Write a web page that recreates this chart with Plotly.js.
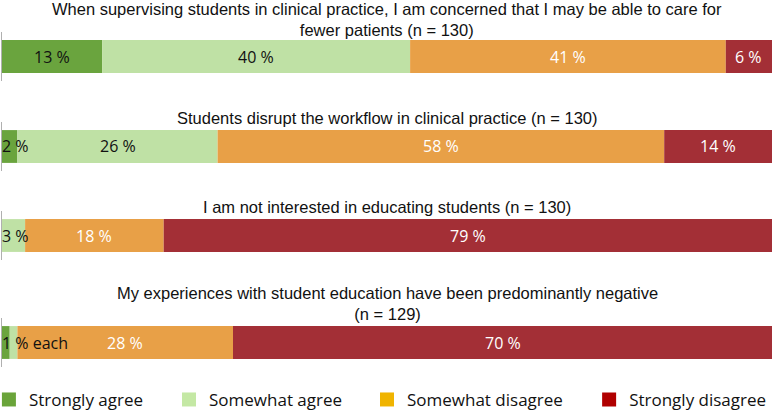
<!DOCTYPE html>
<html>
<head>
<meta charset="utf-8">
<script src="https://cdn.plot.ly/plotly-3.0.1.min.js"></script>
<style>html,body{margin:0;padding:0;background:#fff}#chart{width:772px;height:414px}</style>
</head>
<body>
<div id="chart"></div>
<script>
// ---- data ----
var categories = ["Strongly agree", "Somewhat agree", "Somewhat disagree", "Strongly disagree"];
var questions = [
  "When supervising students in clinical practice, I am concerned that I may be able to care for<br>fewer patients (n = 130)",
  "Students disrupt the workflow in clinical practice (n = 130)",
  "I am not interested in educating students (n = 130)",
  "My experiences with student education have been predominantly negative<br>(n = 129)"
];
var q1Values = [13, 40, 41, 6];
var q2Values = [2, 26, 58, 14];
var q3Values = [0, 3, 18, 79];
var q4Values = [1, 1, 28, 70];
// labels for small segments drawn from the left edge
var smallLabels = [null, "2 %", "3 %", "1 % each"];

// ---- styles ----
var barColors = ["#6aa43e", "#bfe1a5", "#e8a047", "#a32f36"];
var legendColors = ["#6aa43a", "#c4e8a4", "#f0b400", "#b00000"];
var labelColors = ["#111111", "#111111", "#ffffff", "#ffffff"];
var domains = [[0.8043, 0.9227], [0.5870, 0.7053], [0.3720, 0.4903], [0.1135, 0.2319]];
var titleY = [0.953, 0.715, 0.500, 0.266];
var allValues = [q1Values, q2Values, q3Values, q4Values];

var traces = [];
var annotations = [];
var layout = {
  width: 772, height: 414,
  margin: {l: 2, r: 0, t: 0, b: 0, autoexpand: false},
  paper_bgcolor: "#ffffff", plot_bgcolor: "#ffffff",
  barmode: "overlay",
  showlegend: true,
  xaxis: {range: [0, 100], showgrid: false, zeroline: false, showline: false, showticklabels: false, ticks: "", fixedrange: true}
};

allValues.forEach(function (vals, qi) {
  var axName = qi === 0 ? "y" : "y" + (qi + 1);
  var axKey = qi === 0 ? "yaxis" : "yaxis" + (qi + 1);
  var bases = [];
  var acc = 0;
  vals.forEach(function (v) { bases.push(acc); acc += v; });
  traces.push({
    type: "bar", orientation: "h",
    x: vals, base: bases, y: vals.map(function () { return 0; }),
    yaxis: axName, xaxis: "x",
    width: 0.67,
    marker: {color: barColors, line: {width: 0}},
    hoverinfo: "skip", showlegend: false
  });
  layout[axKey] = {
    domain: domains[qi], anchor: "x", range: [-0.5, 0.5],
    showgrid: false, zeroline: false, showticklabels: false, ticks: "",
    showline: true, linecolor: "#b0b0b0", linewidth: 1, fixedrange: true
  };
  annotations.push({
    xref: "paper", yref: "paper", x: 0.5, y: titleY[qi], xanchor: "center", yanchor: "middle",
    text: questions[qi], showarrow: false, align: "center", borderpad: 0,
    font: {family: "Liberation Sans, Arial, sans-serif", size: 16.5, color: "#111111"}
  });
  vals.forEach(function (v, ci) {
    if (v < 5) return;
    annotations.push({
      xref: "x", yref: axName, x: bases[ci] + v / 2, y: 0, xanchor: "center", yanchor: "middle",
      text: v + " %", showarrow: false,
      font: {family: "Open Sans, sans-serif", size: 16, color: labelColors[ci]}
    });
  });
  if (smallLabels[qi]) {
    annotations.push({
      xref: "x", yref: axName, x: 0, y: 0, xanchor: "left", yanchor: "middle", xshift: -2,
      text: smallLabels[qi], showarrow: false,
      font: {family: "Open Sans, sans-serif", size: 16, color: "#111111"}
    });
  }
});

// legend entries (one legend each, so they can be placed like the original)
var legendX = [-0.0170, 0.2169, 0.4740, 0.7625];
categories.forEach(function (c, ci) {
  var lg = ci === 0 ? "legend" : "legend" + (ci + 1);
  traces.push({
    type: "scatter", mode: "markers", x: [null], y: [null], xaxis: "x", yaxis: "y",
    name: c, legend: lg, showlegend: true, hoverinfo: "skip",
    marker: {symbol: "square", size: 14, color: legendColors[ci]}
  });
  layout[lg] = {
    x: legendX[ci], xref: "paper", y: 0.034, yref: "paper", xanchor: "left", yanchor: "middle",
    orientation: "h", bgcolor: "rgba(0,0,0,0)", borderwidth: 0,
    font: {family: "Open Sans, sans-serif", size: 17, color: "#111111"},
    itemwidth: 30
  };
});

layout.annotations = annotations;
Plotly.newPlot("chart", traces, layout, {displayModeBar: false, staticPlot: true});
</script>
</body>
</html>
